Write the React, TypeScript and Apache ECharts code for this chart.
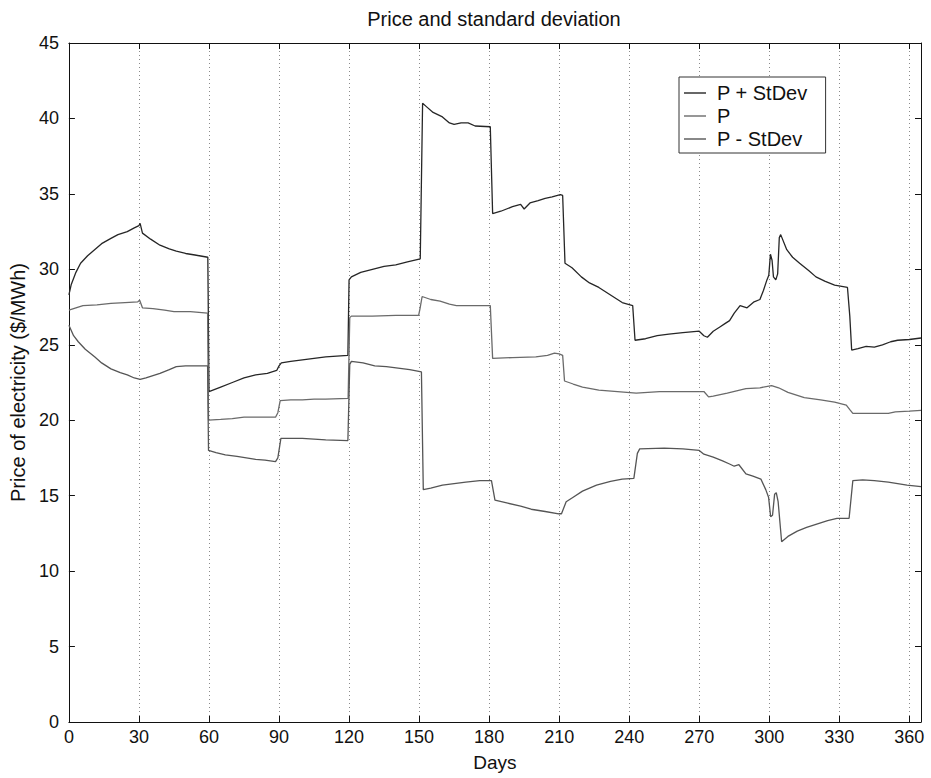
import React, { useEffect, useRef } from "react";
import * as echarts from "echarts";

// [day, $/MWh] samples for each curve
const plusStd: [number, number][] = [
  [0, 28.3], [1, 29.0], [3, 29.8], [5, 30.4], [8, 30.9], [11, 31.3], [14, 31.7], [18, 32.05],
  [21, 32.3], [25, 32.5], [28, 32.75], [30, 32.9], [30.5, 33.05], [31.5, 32.4], [35, 32.0],
  [39, 31.6], [43, 31.35], [46, 31.2], [50, 31.05], [54, 30.95], [59.5, 30.8], [60, 21.9],
  [65, 22.2], [70, 22.5], [75, 22.8], [80, 23.0], [85, 23.1], [89, 23.3], [90, 23.6], [91, 23.8],
  [95, 23.9], [100, 24.0], [105, 24.1], [110, 24.2], [119.5, 24.3], [120, 29.3], [121, 29.5],
  [125, 29.8], [130, 30.0], [135, 30.2], [140, 30.3], [145, 30.5], [150.5, 30.7], [151.5, 41.0],
  [153, 40.8], [156, 40.4], [160, 40.1], [163, 39.7], [165, 39.6], [168, 39.7], [171, 39.7],
  [174, 39.5], [180.5, 39.45], [181.5, 33.7], [185, 33.85], [190, 34.15], [193.5, 34.3],
  [195, 34.0], [197.5, 34.4], [201, 34.55], [204, 34.7], [207, 34.8], [210.5, 34.95],
  [211.5, 34.9], [212.5, 30.4], [215.5, 30.1], [219.5, 29.5], [223, 29.1], [227, 28.8],
  [230, 28.5], [234, 28.1], [237, 27.8], [241.5, 27.6], [242.5, 25.3], [247, 25.4], [252, 25.6],
  [257, 25.7], [263, 25.8], [270, 25.9], [272, 25.6], [273.5, 25.5], [276, 25.9], [279, 26.2],
  [281, 26.4], [283, 26.6], [285, 27.1], [287.5, 27.6], [290.5, 27.45], [293.5, 27.85],
  [296, 28.0], [297.5, 28.6], [299, 29.3], [299.8, 29.6], [300.5, 31.0], [301.2, 30.6],
  [301.8, 29.5], [302.8, 29.3], [303.6, 29.7], [304.3, 32.1], [304.9, 32.3], [307.5, 31.3],
  [310, 30.8], [313, 30.4], [317, 29.9], [320, 29.5], [324, 29.2], [328, 28.95], [333.5, 28.8],
  [334.5, 26.9], [335.3, 24.65], [338, 24.75], [341.5, 24.9], [345, 24.85], [348.5, 25.0],
  [352, 25.2], [355, 25.3], [360, 25.35], [365, 25.45],
];

const price: [number, number][] = [
  [0, 27.3], [3, 27.45], [6, 27.6], [12, 27.65], [18, 27.75], [24, 27.8], [29.5, 27.85],
  [30.3, 27.95], [31.5, 27.45], [36, 27.4], [41, 27.3], [45, 27.2], [52, 27.2], [59.4, 27.1],
  [59.8, 20.0], [65, 20.05], [70, 20.1], [75, 20.2], [80, 20.2], [88.5, 20.2], [89.5, 20.5],
  [90.5, 21.3], [95, 21.35], [100, 21.35], [105, 21.4], [110, 21.4], [119.6, 21.45],
  [120.3, 26.8], [121, 26.9], [130, 26.9], [140, 26.95], [149.8, 26.95], [150.4, 27.4],
  [151.3, 28.2], [155, 28.0], [159, 27.9], [163, 27.7], [166, 27.6], [175, 27.6], [180.5, 27.6],
  [181.5, 24.1], [190, 24.15], [200, 24.2], [205, 24.3], [208, 24.45], [210, 24.4],
  [211.5, 24.3], [212.3, 22.6], [216, 22.4], [220, 22.2], [227, 22.0], [235, 21.9], [243, 21.8],
  [253, 21.9], [262, 21.9], [272, 21.9], [274, 21.55], [276, 21.6], [282, 21.8], [290, 22.1],
  [296, 22.15], [301, 22.3], [304, 22.15], [308, 21.85], [315, 21.5], [322, 21.35], [328, 21.2],
  [333, 21.0], [334.5, 20.7], [335.8, 20.45], [345, 20.45], [351, 20.45], [354, 20.55],
  [360, 20.6], [365, 20.65],
];

const minusStd: [number, number][] = [
  [0, 26.3], [2, 25.6], [4, 25.2], [7, 24.7], [11, 24.2], [14, 23.8], [18, 23.4], [22, 23.15],
  [25, 23.0], [28, 22.8], [30.5, 22.7], [33, 22.8], [36, 22.95], [39, 23.1], [43, 23.35],
  [46, 23.55], [50, 23.6], [54, 23.6], [59.4, 23.6], [59.8, 18.0], [63, 17.85], [67, 17.7],
  [72, 17.6], [76, 17.5], [80, 17.4], [84, 17.35], [88.5, 17.25], [89.5, 17.5], [90.8, 18.8],
  [100, 18.8], [110, 18.7], [119.5, 18.65], [120.3, 23.7], [121, 23.9], [126, 23.8],
  [131, 23.6], [136, 23.55], [141, 23.45], [146, 23.35], [151, 23.2], [151.8, 15.4],
  [155, 15.5], [160, 15.7], [165, 15.8], [170, 15.9], [176, 16.0], [181, 16.0], [182.5, 14.7],
  [188, 14.5], [193.5, 14.3], [198, 14.1], [204, 13.95], [209.8, 13.8], [211, 13.8],
  [213, 14.6], [216, 14.9], [220, 15.3], [226, 15.7], [232, 15.95], [237, 16.1], [242, 16.15],
  [243.5, 17.8], [244.5, 18.1], [255, 18.15], [263, 18.1], [270, 18.0], [272, 17.75],
  [276, 17.55], [280, 17.3], [283, 17.1], [285, 16.95], [287, 17.05], [290, 16.45],
  [293, 16.3], [296.4, 16.1], [298.5, 15.4], [299.7, 14.9], [300.6, 13.6], [301.4, 13.7],
  [302.3, 15.1], [303, 15.2], [303.8, 14.6], [305.3, 11.95], [308, 12.3], [312, 12.65],
  [316, 12.9], [320, 13.1], [325, 13.35], [329, 13.5], [334.2, 13.5], [335.8, 16.0],
  [340, 16.05], [345, 16.0], [351, 15.9], [355, 15.8], [359, 15.7], [365, 15.6],
];

const seriesNames = ["P + StDev", "P", "P - StDev"];
const seriesColors = ["#262626", "#6a6a6a", "#555555"];

const DAY_MIN = 0;
const DAY_MAX = 365;
const DAY_STEP = 30;
const PRICE_MIN = 0;
const PRICE_MAX = 45;
const PRICE_STEP = 5;

const FONT = "'Liberation Sans', Arial, Helvetica, sans-serif";

export default function App() {
  const ref = useRef<HTMLDivElement>(null);

  useEffect(() => {
    if (!ref.current) return;
    const chart = echarts.init(ref.current, undefined, { renderer: "svg" });

    const tickInside = { show: true, inside: true, length: 6, lineStyle: { color: "#111", width: 1 } };
    const axisLine = { show: true, onZero: false, lineStyle: { color: "#111", width: 1 } };

    chart.setOption({
      animation: false,
      backgroundColor: "#ffffff",
      textStyle: { fontFamily: FONT },
      title: {
        text: "Price and standard deviation",
        left: 489,
        top: 4,
        textAlign: "center",
        textStyle: { fontSize: 20, fontWeight: "normal", color: "#111", fontFamily: FONT },
      },
      legend: {
        data: seriesNames,
        orient: "vertical",
        left: 679,
        top: 77,
        icon: "rect",
        itemWidth: 22,
        itemHeight: 1.4,
        itemGap: 3,
        padding: [6, 18, 4, 5],
        borderColor: "#333",
        borderWidth: 1,
        backgroundColor: "#ffffff",
        textStyle: { fontSize: 20, color: "#111", fontFamily: FONT, padding: [0, 0, 0, 6] },
      },
      grid: { left: 63, top: 43, right: 10, bottom: 56, containLabel: false },
      xAxis: [
        {
          type: "value",
          min: DAY_MIN,
          max: DAY_MAX,
          interval: DAY_STEP,
          position: "bottom",
          name: "Days",
          nameLocation: "middle",
          nameGap: 31,
          nameTextStyle: { fontSize: 19, color: "#111", fontFamily: FONT },
          axisLine,
          axisTick: tickInside,
          axisLabel: { fontSize: 18, color: "#111", margin: 6, showMaxLabel: false, fontFamily: FONT },
          splitLine: { show: true, lineStyle: { color: "#8a8a8a", width: 1, type: [1, 3] } },
        },
        {
          type: "value",
          min: DAY_MIN,
          max: DAY_MAX,
          interval: DAY_STEP,
          position: "top",
          axisLine,
          axisTick: tickInside,
          axisLabel: { show: false },
          splitLine: { show: false },
        },
      ],
      yAxis: [
        {
          type: "value",
          min: PRICE_MIN,
          max: PRICE_MAX,
          interval: PRICE_STEP,
          position: "left",
          name: "Price of electricity ($/MWh)",
          nameLocation: "middle",
          nameGap: 32,
          nameTextStyle: { fontSize: 20, color: "#111", fontFamily: FONT },
          axisLine,
          axisTick: tickInside,
          axisLabel: { fontSize: 18, color: "#111", margin: 10, fontFamily: FONT },
          splitLine: { show: false },
        },
        {
          type: "value",
          min: PRICE_MIN,
          max: PRICE_MAX,
          interval: PRICE_STEP,
          position: "right",
          axisLine,
          axisTick: tickInside,
          axisLabel: { show: false },
          splitLine: { show: false },
        },
      ],
      series: [plusStd, price, minusStd].map((data, i) => ({
        name: seriesNames[i],
        type: "line",
        xAxisIndex: 0,
        yAxisIndex: 0,
        data,
        symbol: "none",
        color: seriesColors[i],
        lineStyle: { color: seriesColors[i], width: 1.3 },
      })),
    });

    return () => chart.dispose();
  }, []);

  return (
    <div
      ref={ref}
      style={{ position: "absolute", left: 0, top: 0, width: 931, height: 778, background: "#fff" }}
    />
  );
}
